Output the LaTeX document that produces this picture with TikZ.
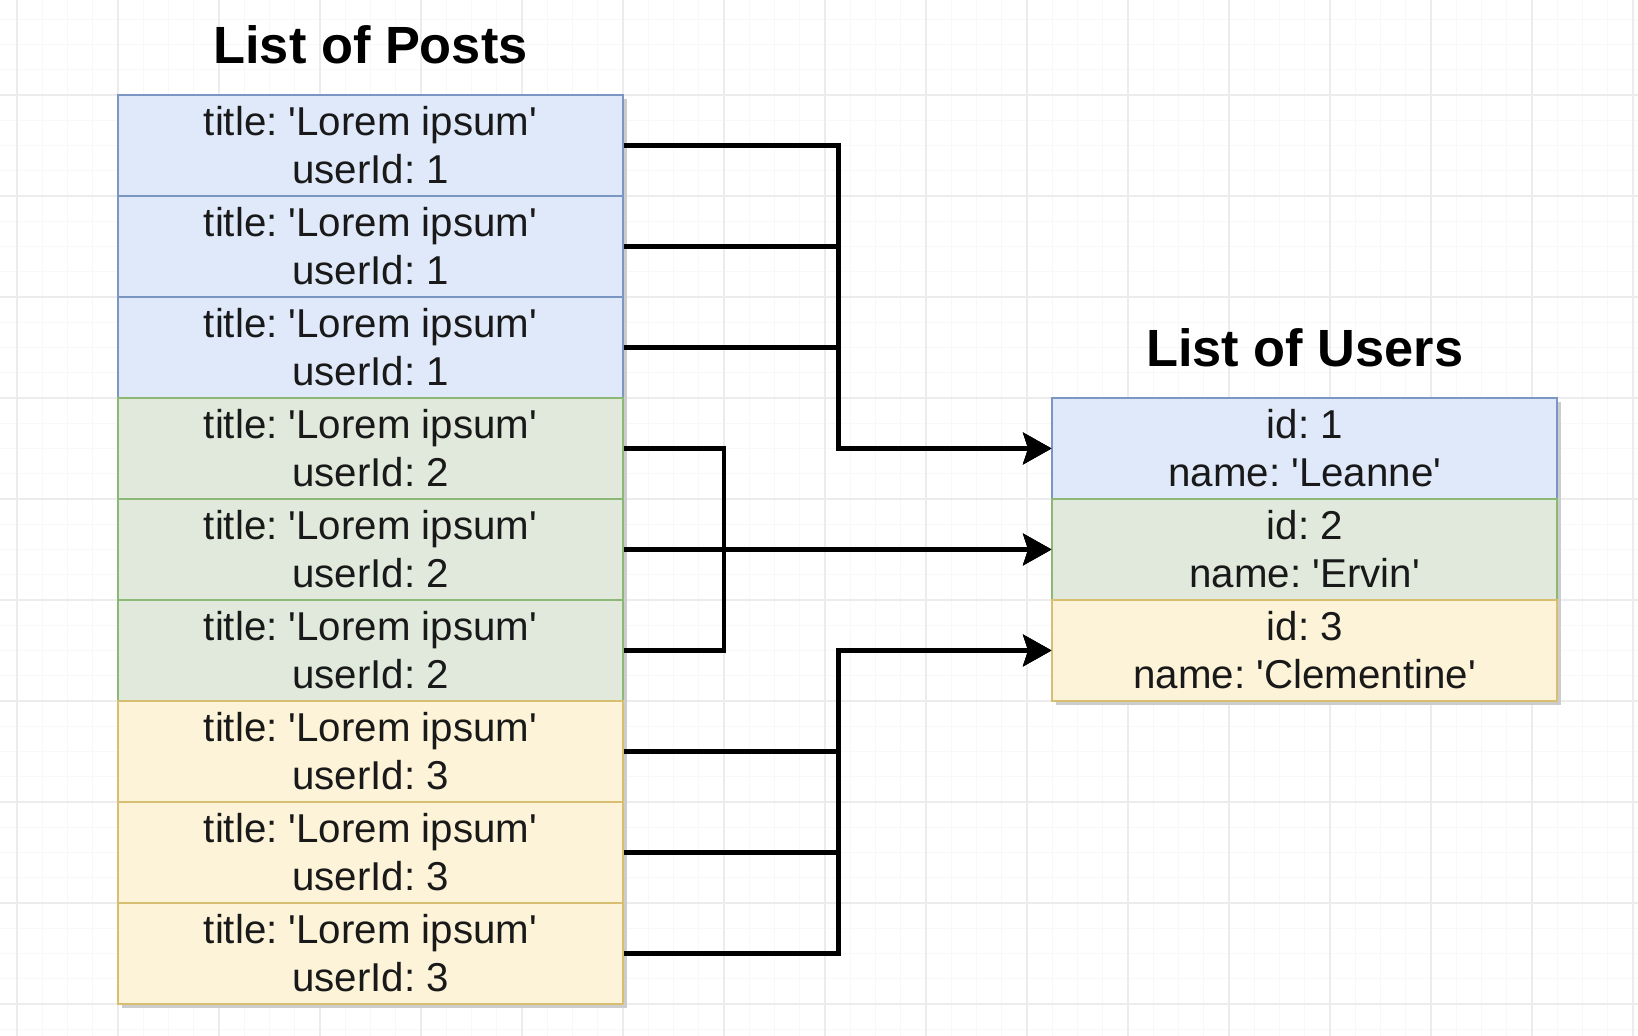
\documentclass[tikz,border=0pt]{standalone}
\usepackage{fontspec}
\setmainfont{Liberation Sans}
\usetikzlibrary{arrows.meta, positioning, shadows}
\definecolor{user1fill}{RGB}{224, 233, 250}
\definecolor{user1line}{RGB}{124, 150, 196}
\definecolor{user2fill}{RGB}{224, 233, 220}
\definecolor{user2line}{RGB}{140, 184, 118}
\definecolor{user3fill}{RGB}{252, 243, 216}
\definecolor{user3line}{RGB}{216, 190, 112}
\definecolor{gridminor}{RGB}{248, 248, 248}
\definecolor{gridmajor}{RGB}{236, 236, 236}
\newcommand{\sq}{\textquotesingle}
\frenchspacing

\begin{document}
\begin{tikzpicture}[
    row/.style={rectangle, minimum width=10cm, minimum height=2cm, inner sep=0pt,
        align=center, line width=0.9pt, text=black!90,
        font=\fontsize{22.7}{27}\selectfont,
        drop shadow={shadow xshift=0.07cm, shadow yshift=-0.07cm, fill=black!20, opacity=1}},
    heading/.style={font=\fontsize{29.5}{34}\selectfont\bfseries},
    link/.style={line width=2.6pt, -{Stealth[length=0.56cm, width=0.62cm, inset=0.1cm]}}
]
    \useasboundingbox (0, 0) rectangle (32.436, 20.515);
    \fill[white] (0, 0) rectangle (32.436, 20.515);

    % Grid
    \draw[gridminor, line width=0.5pt, step=0.5, xshift=0.337cm, yshift=0.134cm] (-0.337, -0.134) grid (32.099, 20.381);
    \draw[gridmajor, line width=0.7pt, step=2, xshift=0.337cm, yshift=0.634cm] (-0.337, -0.634) grid (32.099, 19.881);

    % Headings
    \node[heading] (postsTitle) at (7.337, 19.62) {List of Posts};
    \node[heading] (usersTitle) at (25.837, 13.62) {List of Users};

    % Posts
    \foreach \i in {1,...,9} {
        \pgfmathtruncatemacro{\u}{int((\i+2)/3)}
        \node[row, fill=user\u fill, draw=user\u line] (p\i) at (7.337, 19.634-2*\i)
            {title: \sq Lorem ipsum\sq\\userId: \u};
    }

    % Users
    \node[row, fill=user1fill, draw=user1line] (u1) at (25.837, 11.634) {id: 1\\name: \sq Leanne\sq};
    \node[row, fill=user2fill, draw=user2line] (u2) at (25.837, 9.634) {id: 2\\name: \sq Ervin\sq};
    \node[row, fill=user3fill, draw=user3line] (u3) at (25.837, 7.634) {id: 3\\name: \sq Clementine\sq};

    % Arrows
    \coordinate (bx) at (16.6, 0);
    \coordinate (gx) at (14.337, 0);
    \foreach \i in {1,2,3}
        \draw[link] (p\i.east) -| (bx |- u1.west) -- (u1.west);
    \foreach \i in {4,6}
        \draw[link] (p\i.east) -| (gx |- u2.west) -- (u2.west);
    \draw[link] (p5.east) -- (u2.west);
    \foreach \i in {7,8,9}
        \draw[link] (p\i.east) -| (bx |- u3.west) -- (u3.west);
\end{tikzpicture}
\end{document}
